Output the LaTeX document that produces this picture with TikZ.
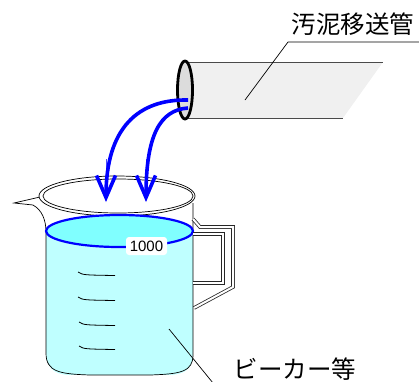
\documentclass[tikz,border=0pt]{standalone}
\usepackage{fontspec}
\newfontfamily\jpfont{Noto Sans CJK JP}
\newfontfamily\numfont{Liberation Sans}
\usetikzlibrary{arrows.meta}
\definecolor{waterbody}{HTML}{BFFFFF}
\definecolor{watertop}{HTML}{80FFFF}
\definecolor{pipefill}{HTML}{F0F0F0}
\definecolor{pipemouth}{HTML}{DCDCDC}
\definecolor{pipeedge}{HTML}{4A4A4A}
\tikzset{
  wall/.style={black, line width=0.7pt},
  leader/.style={black, line width=0.7pt},
  flow/.style={blue, line width=3.6pt, -{Straight Barb[length=22pt,width=19pt,line width=3.6pt]}},
  flowhair/.style={blue!70, line width=0.6pt},
  gauge/.style={black, line width=0.8pt},
  handleline/.style={double=white, draw=black!85, line width=0.8pt, double distance=2pt},
  jplabel/.style={font=\jpfont\fontsize{24.5}{28}\selectfont, inner sep=0pt},
}
\begin{document}
\begin{tikzpicture}[x=1pt,y=-1pt]
\useasboundingbox (0,0) rectangle (419,381);

% --- transfer pipe ---
\fill[pipefill] (185,62) -- (383,62) -- (343,118) -- (185,118) -- cycle;
\draw[pipeedge, line width=1pt] (185,62) -- (383,62);
\draw[pipeedge, line width=1pt] (185,118) -- (343,118);
\draw[black, line width=2.8pt, fill=pipemouth] (185,90) ellipse [x radius=7.5, y radius=29];

% pipe label
\node[jplabel] (pipelabel) at (353,24) {汚泥移送管};
\coordinate (pipeA) at (288,42);
\coordinate (pipeB) at (419,42);
\coordinate (pipeC) at (245,100);
\draw[leader] (pipeB) -- (pipeA) -- (pipeC);

% --- beaker: water body ---
\fill[waterbody] (46,231) -- (46,375) -- (193,375) -- (193,231) -- cycle;
\fill[white] (46,353) .. controls (46,372) and (60,375) .. (70,375) -- (46,375) -- cycle;
\fill[white] (193,355) .. controls (193,372) and (180,375) .. (168,375) -- (193,375) -- cycle;

% walls and rounded bottom
\draw[wall] (46,230) -- (46,353) .. controls (46,372) and (60,374) .. (90,375)
  -- (150,375) .. controls (180,374) and (193,372) .. (193,355) -- (193,203);

% spout
\draw[wall] (40,197) -- (14,203) -- (33,205) .. controls (42,210) and (46,220) .. (46,232);

% rim (double ring)
\draw[wall, fill=white] (117,196) ellipse [x radius=78, y radius=20];
\draw[wall] (118,196) ellipse [x radius=75, y radius=17];

% water surface
\draw[blue, line width=2.2pt, fill=watertop] (119.5,231) ellipse [x radius=73.5, y radius=16];

% volume marks
\draw[gauge] (78,272) .. controls (83,275) .. (115,275.5);
\draw[gauge] (78,297) .. controls (83,300) .. (115,300.5);
\draw[gauge] (79,322) .. controls (84,325) .. (115,325.5);
\draw[gauge] (79,346) .. controls (84,349) .. (115,349.5);

% volume label
\node[fill=white, rounded corners=3pt, inner sep=1.5pt, minimum width=41pt, minimum height=18pt,
      font=\numfont\fontsize{15}{17}\selectfont] (vol) at (146.5,246) {1000};

% handle
\draw[handleline] (193,219) -- (200,227) -- (233,227) -- (233,287) -- (194,308);
\draw[handleline] (193,234) -- (223,234) -- (223,283) -- (193,283);

% --- flow from pipe into beaker ---
\draw[flowhair] (106,159) -- (106,196);
\draw[flowhair] (146,159) -- (146,196);
\coordinate (outA) at (188,100);
\coordinate (outB) at (188,108);
\coordinate (inA) at (106,202);
\coordinate (inB) at (146,202);
\draw[flow] (outA) .. controls (138,99) and (106,128) .. (inA);
\draw[flow] (outB) .. controls (160,110) and (146,135) .. (inB);

% beaker label
\node[jplabel] (beakerlabel) at (295,369) {ビーカー等};
\coordinate (bkA) at (169,329);
\coordinate (bkB) at (213,383);
\draw[leader] (bkA) -- (bkB);
\end{tikzpicture}
\end{document}
